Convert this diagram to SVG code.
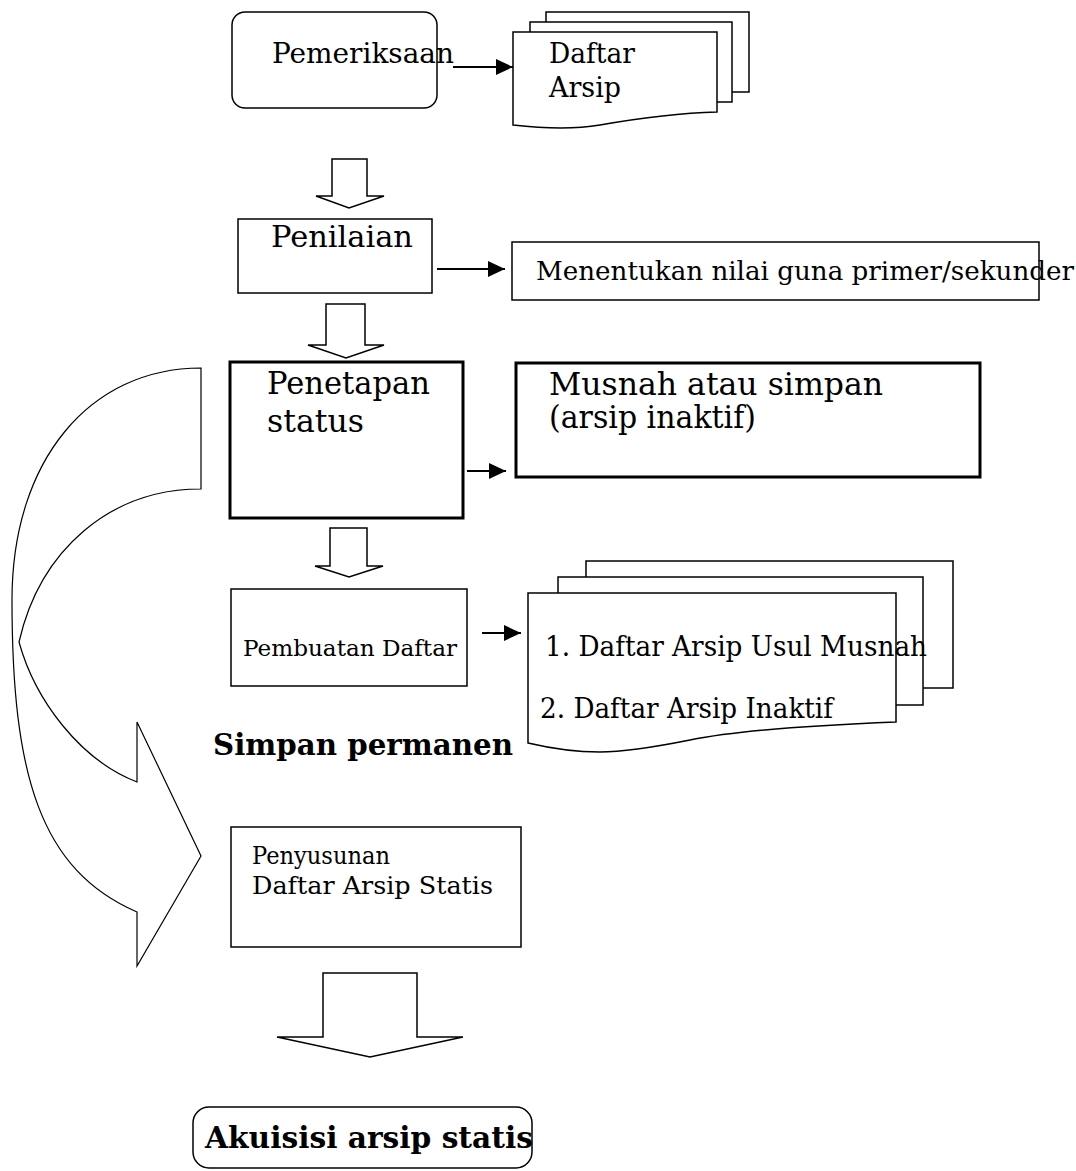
<svg xmlns="http://www.w3.org/2000/svg" width="1076" height="1171" viewBox="0 0 1076 1171">
<style>
.t{font-family:"DejaVu Serif","Liberation Serif",serif;fill:#000}
.b{font-family:"DejaVu Serif","Liberation Serif",serif;font-weight:bold;fill:#000}
.box{fill:#fff;stroke:#000;stroke-width:1.5}
.thick{fill:#fff;stroke:#000;stroke-width:3}
.hol{fill:#fff;stroke:#000;stroke-width:1.5;stroke-linejoin:miter}
.ln{stroke:#000;stroke-width:2.2;fill:none}
</style>
<defs>
<marker id="ah" markerUnits="userSpaceOnUse" markerWidth="18" markerHeight="16" refX="17" refY="8" orient="auto">
<path d="M0,0 L17,8 L0,16 Z" fill="#000"/>
</marker>
</defs>

<g id="connectors">
<line class="ln" x1="453" y1="67" x2="513" y2="67" marker-end="url(#ah)"/>
<line class="ln" x1="437" y1="269" x2="505" y2="269" marker-end="url(#ah)"/>
<line class="ln" x1="467" y1="471" x2="506" y2="471" marker-end="url(#ah)"/>
<line class="ln" x1="482" y1="633" x2="521" y2="633" marker-end="url(#ah)"/>
<polygon class="hol" points="332,159 367,159 367,196 384,196 349,208 316,196 332,196"/>
<polygon class="hol" points="326,304 365,304 365,345 384,345 346,358 308,345 326,345"/>
<polygon class="hol" points="330,528 367,528 367,566 383,566 349,577 315,566 330,566"/>
<polygon class="hol" points="323,973 417,973 417,1037 463,1037 370,1057 277,1037 323,1037"/>
<path id="curved-arrow" fill="#fff" stroke="#000" stroke-width="1.2" d="M201,368 C90,368 12,460 12,600 C12,775 40,870 137,912 L137,966 L201,856 L137,722 L137,782 C80,760 35,700 19,642 C40,550 110,489 201,489 Z"/>
</g>

<g id="pemeriksaan">
<rect class="box" x="232" y="12" width="205" height="96" rx="13"/>
<text class="t" x="272" y="63" font-size="28" textLength="182" lengthAdjust="spacingAndGlyphs">Pemeriksaan</text>
</g>

<g id="daftar-arsip">
<rect class="box" x="546" y="12" width="203" height="80"/>
<rect class="box" x="530" y="22" width="202" height="80"/>
<path class="box" d="M513,32 H717 V112 C680,113 640,118 600,125 C570,130 540,128 513,125 Z"/>
<text class="t" x="549" y="63" font-size="27" textLength="86" lengthAdjust="spacingAndGlyphs">Daftar</text>
<text class="t" x="549" y="97" font-size="27" textLength="72" lengthAdjust="spacingAndGlyphs">Arsip</text>
</g>

<g id="penilaian">
<rect class="box" x="238" y="219" width="194" height="74"/>
<text class="t" x="271" y="247" font-size="30" textLength="142" lengthAdjust="spacingAndGlyphs">Penilaian</text>
</g>

<g id="menentukan">
<rect class="box" x="512" y="242" width="527" height="58" stroke-width="2"/>
<text class="t" x="536" y="280" font-size="26" textLength="538" lengthAdjust="spacingAndGlyphs">Menentukan nilai guna primer/sekunder</text>
</g>

<g id="penetapan">
<rect class="thick" x="230" y="362" width="233" height="156"/>
<text class="t" x="267" y="394" font-size="31" textLength="163" lengthAdjust="spacingAndGlyphs">Penetapan</text>
<text class="t" x="267" y="432" font-size="31" textLength="97" lengthAdjust="spacingAndGlyphs">status</text>
</g>

<g id="musnah">
<rect class="thick" x="516" y="363" width="464" height="114"/>
<text class="t" x="549" y="395" font-size="31" textLength="334" lengthAdjust="spacingAndGlyphs">Musnah atau simpan</text>
<text class="t" x="549" y="428" font-size="31" textLength="207" lengthAdjust="spacingAndGlyphs">(arsip inaktif)</text>
</g>

<g id="pembuatan">
<rect class="box" x="231" y="589" width="236" height="97"/>
<text class="t" x="243" y="656" font-size="22" textLength="214" lengthAdjust="spacingAndGlyphs">Pembuatan Daftar</text>
</g>

<g id="daftar-list">
<rect class="box" x="586" y="561" width="367" height="127"/>
<rect class="box" x="558" y="577" width="365" height="128"/>
<path class="box" d="M528,593 H896 V722 C820,725 740,730 690,740 C650,748 620,752 600,752 C570,752 545,747 528,743 Z"/>
<text class="t" x="545" y="656" font-size="27" textLength="382" lengthAdjust="spacingAndGlyphs">1.  Daftar Arsip Usul Musnah</text>
<text class="t" x="540" y="718" font-size="27" textLength="293" lengthAdjust="spacingAndGlyphs">2.  Daftar Arsip Inaktif</text>
</g>

<g id="simpan-permanen">
<text class="b" x="213" y="755" font-size="29" textLength="300" lengthAdjust="spacingAndGlyphs">Simpan permanen</text>
</g>

<g id="penyusunan">
<rect class="box" x="231" y="827" width="290" height="120"/>
<text class="t" x="252" y="864" font-size="25" textLength="138" lengthAdjust="spacingAndGlyphs">Penyusunan</text>
<text class="t" x="252" y="894" font-size="25" textLength="241" lengthAdjust="spacingAndGlyphs">Daftar Arsip Statis</text>
</g>

<g id="akuisisi">
<rect class="box" x="193" y="1107" width="339" height="61" rx="16"/>
<text class="b" x="205" y="1148" font-size="29" textLength="328" lengthAdjust="spacingAndGlyphs">Akuisisi arsip statis</text>
</g>
</svg>
